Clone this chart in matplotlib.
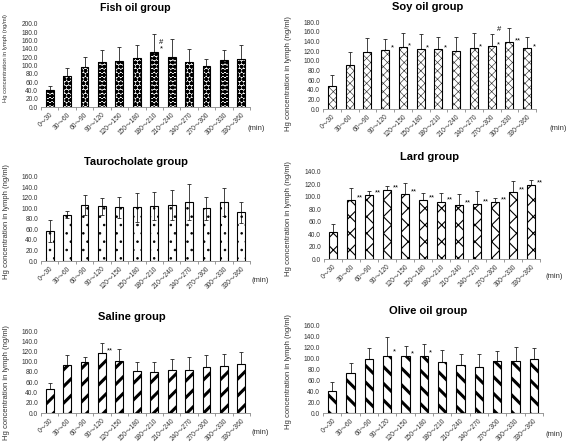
import numpy as np
import matplotlib
matplotlib.use("Agg")
import matplotlib.pyplot as plt

plt.rcParams['font.family'] = ['Liberation Sans', 'Noto Sans CJK JP', 'DejaVu Sans']

# time intervals (min)
intervals = ["0～30", "30～60", "60～90", "90～120", "120～150", "150～180",
             "180～210", "210～240", "240～270", "270～300", "300～330", "330～360"]

# means and SD (upper error)
fish_mean = [41, 75, 96, 108, 112, 117, 133, 120, 108, 100, 113, 116]
fish_sd = [9, 20, 25, 29, 33, 32, 42, 44, 32, 16, 24, 33]

soy_mean = [48, 91, 117, 122, 128, 125, 125, 120, 127, 130, 138, 127]
soy_sd = [23, 27, 29, 23, 30, 31, 25, 30, 31, 26, 30, 23]

tauro_mean = [58, 88, 106, 104, 102, 102, 105, 107, 112, 100, 112, 93]
tauro_sd = [21, 7, 19, 16, 20, 27, 27, 28, 34, 22, 27, 20]

lard_mean = [43, 95, 103, 111, 105, 95, 92, 87, 89, 92, 108, 119]
lard_sd = [14, 20, 7, 7, 17, 11, 14, 18, 20, 6, 17, 8]

saline_mean = [47, 93, 100, 118, 101, 81, 80, 83, 84, 90, 91, 95]
saline_sd = [12, 21, 10, 19, 24, 18, 20, 23, 26, 24, 25, 25]

olive_mean = [41, 73, 100, 105, 104, 105, 94, 88, 84, 95, 95, 99]
olive_sd = [16, 19, 20, 35, 20, 22, 22, 21, 25, 19, 26, 21]

# significance marks: (bar index, text, y)
fish_marks = [(6, "#", 156), (6, "*", 140)]
soy_marks = [(3, "*", 126), (4, "*", 131), (5, "*", 127), (6, "*", 127),
             (8, "*", 129), (9, "*", 133), (9, "#", 164), (10, "**", 140), (11, "*", 129)]
lard_marks = [(i, "**", v + 3) for i, v in enumerate(lard_mean) if i > 0]
saline_marks = [(3, "**", 121)]
olive_marks = [(3, "*", 112), (4, "*", 109), (5, "*", 111)]

W, H = 567, 445
fig = plt.figure(figsize=(W / 100, H / 100), dpi=100)


def px_axes(x0, x1, ytop, ybot):
    return fig.add_axes([x0 / W, 1 - ybot / H, (x1 - x0) / W, (ybot - ytop) / H])


def panel(box, title, tpos, mean, sd, ymax, hatch, hw, marks, minpos, ylx,
          face='white', hcol='black', twoside=False, tsize=8, ysize=5.5):
    ax = px_axes(*box)
    x = np.arange(len(mean))
    lower = sd if twoside else [0] * len(sd)
    ax.errorbar(x, mean, yerr=[lower, sd], fmt='none', ecolor='#222222',
                elinewidth=0.6, capsize=1.5, capthick=0.6, zorder=1)
    bars = ax.bar(x, mean, width=0.45, color=face, edgecolor=hcol, hatch=hatch,
                  linewidth=0, zorder=2)
    for b in bars:
        if hasattr(b, 'set_hatch_linewidth'):
            b.set_hatch_linewidth(hw)
    ax.bar(x, mean, width=0.45, fill=False, edgecolor='black', linewidth=0.8, zorder=3)
    for i, t, y in marks:
        ax.text(i + 0.3, y, t, fontsize=5.5, ha='left', va='center', zorder=4)
    ax.set_xlim(-0.5, len(mean) - 0.5)
    ax.set_ylim(0, ymax)
    ax.set_yticks(np.arange(0, ymax + 1, 20))
    ax.set_yticklabels([f"{v:.1f}" for v in np.arange(0, ymax + 1, 20)], fontsize=4.8,
                       color='#333333')
    ax.set_xticks(x)
    ax.set_xticklabels(intervals, rotation=45, ha='right', va='top', fontsize=4.8,
                       color='#333333', rotation_mode='anchor')
    ax.set_xticks(np.arange(-0.5, len(mean)), minor=True)
    ax.tick_params(axis='x', which='major', length=0, pad=3)
    ax.tick_params(axis='x', which='minor', length=2.5, width=0.6, color='#888888')
    ax.tick_params(axis='y', length=0, pad=2)
    for s in ['top', 'right', 'left']:
        ax.spines[s].set_visible(False)
    ax.spines['bottom'].set_color('#888888')
    ax.spines['bottom'].set_linewidth(0.6)
    fig.text(tpos[0] / W, 1 - tpos[1] / H, title, fontsize=tsize, fontweight='bold',
             ha='center', va='center')
    fig.text(minpos[0] / W, 1 - minpos[1] / H, "(min)", fontsize=5.5, ha='left',
             va='center', color='#333333')
    fig.text(ylx[0] / W, 1 - ylx[1] / H, "Hg concentration in lymph (ng/ml)",
             fontsize=ysize, rotation=90, ha='center', va='center', color='#333333')
    return ax


panel((41, 250, 24, 107), "Fish oil group", (135, 8), fish_mean, fish_sd, 200,
      'oooo', 1.4, fish_marks, (248, 128), (6, 58), tsize=7.7, ysize=4.2)
panel((323, 536, 22, 109), "Soy oil group", (428, 7), soy_mean, soy_sd, 180,
      'xxxx', 0.45, soy_marks, (550, 128), (289, 74), hcol='#333333')
panel((41, 250, 177, 261), "Taurocholate group", (136, 162), tauro_mean, tauro_sd, 160,
      '..', 0.6, [], (251, 280), (7, 222), face='none', twoside=True)
panel((324, 540, 172, 259), "Lard group", (430, 157), lard_mean, lard_sd, 140,
      'xx', 0.8, lard_marks, (546, 277), (289, 219))
panel((41, 250, 331, 413), "Saline group", (132, 317), saline_mean, saline_sd, 160,
      '//', 2.2, saline_marks, (251, 432), (7, 383))
panel((323, 543, 326, 413), "Olive oil group", (428, 311), olive_mean, olive_sd, 160,
      '\\\\', 2.2, olive_marks, (546, 435), (289, 372))

fig.savefig("out.png", dpi=100)
